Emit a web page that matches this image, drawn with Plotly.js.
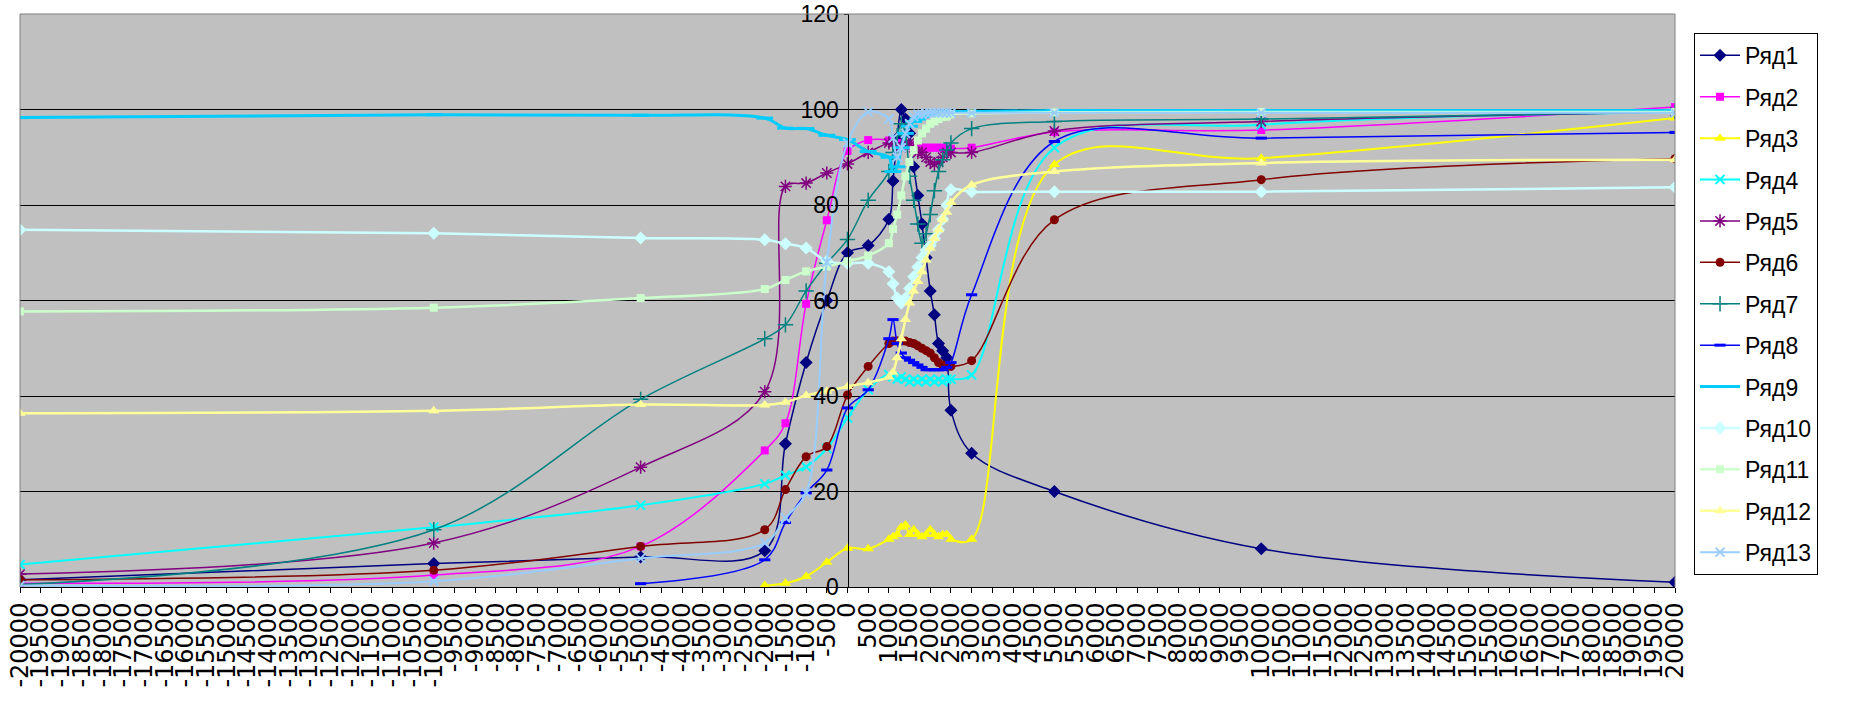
<!DOCTYPE html>
<html>
<head>
<meta charset="utf-8">
<script src="https://cdn.plot.ly/plotly-3.0.1.min.js"></script>
<style>
  html, body { margin: 0; padding: 0; background: #ffffff; }
  #chart { width: 1849px; height: 703px; }
</style>
</head>
<body>
<div id="chart"></div>
<script>
// Shared x positions (value axis, -20000 .. 20000)
const xValues = [-20000, -10000, -5000, -2000, -1500, -1000, -500, 0, 500,
  1000, 1100, 1200, 1300, 1400, 1500, 1600, 1700, 1800, 1900, 2000, 2100, 2200, 2300, 2400, 2500,
  3000, 5000, 10000, 20000];

const seriesNames = ["Ряд1", "Ряд2", "Ряд3", "Ряд4", "Ряд5", "Ряд6", "Ряд7",
  "Ряд8", "Ряд9", "Ряд10", "Ряд11", "Ряд12", "Ряд13"];

const row1 = [1.5, 4.9, 6.3, 7.6, 30, 47, 60, 70, 71.5, 77, 85, 94, 100, 98, 95, 88, 82, 76, 69, 62, 57, 51, 49.5, 48, 37, 28, 20, 8, 1];
const row2 = [0.8, 2.5, 8.5, 28.6, 34.3, 59.3, 76.8, 91.3, 93.6, 93.5, 93, 93, 92.5, 92.5, 92.5, 92, 92, 92, 92, 92, 92, 92, 92, 91.8, 91.8, 92, 95.3, 95.7, 100.5];
const row3 = [null, null, null, 0.3, 0.8, 2.2, 5.2, 8.1, 8, 10, 10.5, 11, 12.5, 13, 11, 12, 11, 10.5, 11, 12, 11, 10.5, 11, 11, 10, 10, 88.5, 89.8, 98.2];
const row4 = [4.7, 12.5, 17.1, 21.6, 23.4, 25.2, 29, 35.4, 41.3, 44.5, 44, 43.5, 44, 43.5, 43, 43.5, 43, 43.5, 43, 43.5, 43, 43.5, 43, 43.5, 43.5, 44.4, 92, 96.8, 99.5];
const row5 = [2.7, 9.2, 25.1, 40.9, 83.9, 84.6, 86.7, 88.6, 91, 93, 93, 92.5, 92, 93, 93, 92, 91, 91, 90, 89, 88.5, 89, 90, 91, 91, 91, 95.5, 97.5, 99.5];
const row6 = [1.5, 3.5, 8.5, 12, 20.4, 27.3, 29.4, 40.2, 46.2, 51, 51.5, 51.5, 51.5, 51.5, 51.2, 51, 50.5, 50, 49.5, 49, 48, 47, 46.5, 46.2, 46.2, 47.4, 76.9, 85.3, 89.7];
const row7 = [0.5, 12, 39.3, 52, 54.9, 62, 67.8, 72.8, 81, 87, 91, 94.5, 97, 95, 86, 81, 76, 72, 74, 78, 83, 87, 89.5, 91.5, 93, 96, 97.5, 98, 99.5];
const row8 = [null, null, 0.7, 5.7, 13.5, 19.7, 24.5, 37.5, 41.3, 52, 56, 51, 49, 48, 47.5, 47, 46.5, 46, 45.5, 45.5, 45.5, 45.5, 45.5, 46, 47, 61.2, 93.3, 94, 95.2];
const row9 = [98.3, 98.9, 98.8, 98.2, 96.1, 96, 94.6, 93.7, 91.2, 90, 87, 88, 92, 95, 96.5, 97.5, 98, 98.5, 99, 99, 99.2, 99.3, 99.4, 99.5, 99.5, 99.6, 99.8, 99.8, 99.8];
const row10 = [74.8, 74.1, 73.1, 72.7, 71.9, 71, 68.2, 67.8, 67.8, 66, 63.5, 60.5, 59.5, 60.5, 62.5, 65, 67, 69, 70.5, 71.5, 73, 74.8, 77, 80, 83.2, 82.8, 82.8, 82.8, 83.7];
const row11 = [57.7, 58.5, 60.5, 62.4, 64.3, 66.1, 67.1, 68.2, 69.4, 72, 75, 78, 82, 86, 89, 91.5, 93.5, 95, 96, 97, 97.5, 98, 98.5, 98.5, 99, 99.2, 99.4, 99.5, 99.5];
const row12 = [36.4, 36.9, 38.2, 38.1, 38.7, 40.1, 41, 42, 42.8, 44, 45, 48, 52, 56, 59.5, 62, 64, 66, 68.5, 71, 73, 74.8, 77, 78.5, 80.5, 84.2, 87, 88.8, 89.5];
const row13 = [0.3, 1.2, 6, 9.2, 14.5, 19.7, 68, 93, 99.5, 98, 94, 90, 92, 95, 97, 98.5, 99, 99, 99.2, 99.3, 99.3, 99.3, 99.3, 99.3, 99.3, 99.3, 99.3, 99.3, 99.3];

const rows = [row1, row2, row3, row4, row5, row6, row7, row8, row9, row10, row11, row12, row13];

// x-axis tick marks: every 500 from -20000 to 20000, labelled with plain integers
const xTickValues = [];
for (let v = -20000; v <= 20000; v += 500) xTickValues.push(v);
const xTickLabels = xTickValues.map(v => String(v));

// styles (Excel 2003 default palette / markers)
const colors = ["#000080", "#FF00FF", "#FFFF00", "#00FFFF", "#800080", "#800000", "#008080",
  "#0000FF", "#00CCFF", "#CCFFFF", "#CCFFCC", "#FFFF99", "#99CCFF"];
const symbols = ["diamond", "square", "triangle-up", "x-thin-open", "asterisk-open", "circle", "cross-thin-open",
  "line-ew-open", "line-ew-open", "diamond", "square", "triangle-up", "x-thin-open"];
const msizes = [10, 8, 10, 9, 11, 9, 11, 8, 12, 10, 8, 10, 9];
const mline = [0, 0, 0, 2, 1.5, 0, 1.5, 3, 3, 0, 0, 0, 2];
const lwidth = [1.5, 1.5, 2, 2, 1.5, 1.5, 1.5, 1.5, 3, 2.5, 2.5, 2.5, 2];

const narrow = "'Liberation Sans Narrow', 'Arial Narrow', 'Liberation Sans', Arial, sans-serif";

const traces = rows.map((ys, i) => ({
  type: "scatter",
  mode: "lines+markers",
  name: seriesNames[i],
  legendgroup: "g" + i,
  x: xValues,
  y: ys,
  line: { color: colors[i], width: lwidth[i], shape: "spline", smoothing: 1 },
  marker: { symbol: symbols[i], size: msizes[i], color: colors[i],
            line: { color: colors[i], width: mline[i] } },
  hoverinfo: "x+y+name"
}));

const layout = {
  width: 1849,
  height: 703,
  margin: { l: 20, r: 174, t: 14, b: 116, pad: 0 },
  paper_bgcolor: "#FFFFFF",
  plot_bgcolor: "#C0C0C0",
  showlegend: true,
  xaxis: {
    range: [-20000, 20000],
    tickmode: "array",
    tickvals: xTickValues,
    ticktext: xTickLabels,
    tickangle: -90,
    ticks: "outside",
    ticklen: 5,
    tickcolor: "#000000",
    showgrid: false,
    zeroline: false,
    showline: true,
    linecolor: "#000000",
    linewidth: 1,
    tickfont: { family: "'DejaVu Sans', sans-serif", size: 24, color: "#000000" },
    fixedrange: true
  },
  yaxis: {
    range: [0, 120],
    tickmode: "linear",
    tick0: 0,
    dtick: 20,
    anchor: "free",
    position: 0.5,
    showgrid: true,
    gridcolor: "#000000",
    gridwidth: 1,
    zeroline: false,
    showline: true,
    linecolor: "#000000",
    linewidth: 1,
    ticks: "outside",
    ticklen: 4,
    tickcolor: "#000000",
    tickfont: { family: narrow, size: 23, color: "#000000" },
    fixedrange: true
  },
  legend: {
    x: 1.0115,
    y: 0.967,
    xanchor: "left",
    yanchor: "top",
    bgcolor: "#FFFFFF",
    bordercolor: "#000000",
    borderwidth: 1,
    traceorder: "grouped",
    tracegroupgap: 8.5,
    itemwidth: 40,
    font: { family: narrow, size: 23, color: "#000000" }
  },
  shapes: [
    { type: "line", xref: "paper", yref: "paper", x0: 0, x1: 1, y0: 1, y1: 1, line: { color: "#808080", width: 1 }, layer: "above" },
    { type: "line", xref: "paper", yref: "paper", x0: 0, x1: 0, y0: 0, y1: 1, line: { color: "#808080", width: 1 }, layer: "above" },
    { type: "line", xref: "paper", yref: "paper", x0: 1, x1: 1, y0: 0, y1: 1, line: { color: "#808080", width: 1 }, layer: "above" }
  ]
};

Plotly.newPlot("chart", traces, layout, { displayModeBar: false, staticPlot: true });
</script>
</body>
</html>
